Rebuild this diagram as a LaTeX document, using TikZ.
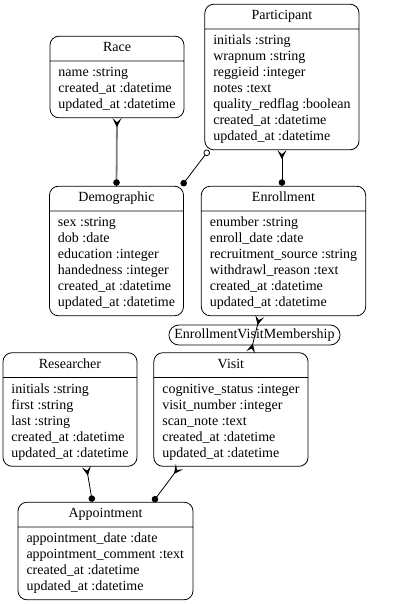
\documentclass[tikz,border=0pt]{standalone}
\usepackage{fontspec}
\setmainfont{Liberation Serif}
\usetikzlibrary{shapes.multipart, positioning, arrows.meta}
\tikzset{
entity/.style={draw, line width=0.8pt, rectangle split, rectangle split parts=2, rounded corners=9pt,
  rectangle split part align={center,left}, align=left, inner xsep=8.5pt, inner ysep=4pt,
  font=\fontsize{14}{16}\selectfont, execute at begin node=\strut}, % one table of the schema
linkbox/.style={draw, line width=0.8pt, rounded corners=10pt, inner xsep=5.5pt, inner ysep=2pt,
  font=\fontsize{14}{16}\selectfont, execute at begin node=\strut}, % the join table label
rel/.style={line width=0.8pt}, % the relation lines
crowfoot/.tip={Stealth[reversed, length=9pt, width=9pt, inset=4pt]}, % the many end
onedot/.tip={Circle[length=6.5pt]}, % the one end
opendot/.tip={Circle[open, length=6.5pt]}, % the optional end
}
\newcommand{\attrs}[1]{\nodepart{two}\strut#1\strut}

\begin{document}
\begin{tikzpicture}[x=1pt, y=-1pt]
\useasboundingbox (0,0) rectangle (407,604);
\node[entity, minimum width=132pt] (race) at (117,77) {Race\attrs{name :string\\created\_at :datetime\\updated\_at :datetime}};
\node[entity, minimum width=151pt, right=20pt of race] (part) {Participant\attrs{initials :string\\wrapnum :string\\reggieid :integer\\notes :text\\quality\_redflag :boolean\\created\_at :datetime\\updated\_at :datetime}};
\node[entity, minimum width=133pt] (demog) at (116.5,251) {Demographic\attrs{sex :string\\dob :date\\education :integer\\handedness :integer\\created\_at :datetime\\updated\_at :datetime}};
\node[entity, minimum width=163pt, right=17pt of demog] (enroll) {Enrollment\attrs{enumber :string\\enroll\_date :date\\recruitment\_source :string\\withdrawl\_reason :text\\created\_at :datetime\\updated\_at :datetime}};
\node[linkbox] (member) at (254.5,335) {EnrollmentVisitMembership};
\node[entity, minimum width=134pt] (res) at (70,409.5) {Researcher\attrs{initials :string\\first :string\\last :string\\created\_at :datetime\\updated\_at :datetime}};
\node[entity, minimum width=153pt, right=16pt of res] (visit) {Visit\attrs{cognitive\_status :integer\\visit\_number :integer\\scan\_note :text\\created\_at :datetime\\updated\_at :datetime}};
\node[entity, minimum width=175pt] (appt) at (105.5,551) {Appointment\attrs{appointment\_date :date\\appointment\_comment :text\\created\_at :datetime\\updated\_at :datetime}};

\draw[rel, gray, line width=1.8pt, {crowfoot[color=black]}-{onedot[color=black]}] (race.south) -- (demog.north);
\draw[rel, opendot-onedot] (part.225) -- (demog.45);
\draw[rel, crowfoot-onedot] (part.south) -- (part.south |- enroll.north);
\draw[rel, crowfoot-crowfoot] (enroll.250) -- (visit.71);
\draw[rel, crowfoot-onedot] (res.286) -- (appt.105);
\draw[rel, crowfoot-onedot] (visit.228) -- (appt.46);
\end{tikzpicture}
\end{document}
